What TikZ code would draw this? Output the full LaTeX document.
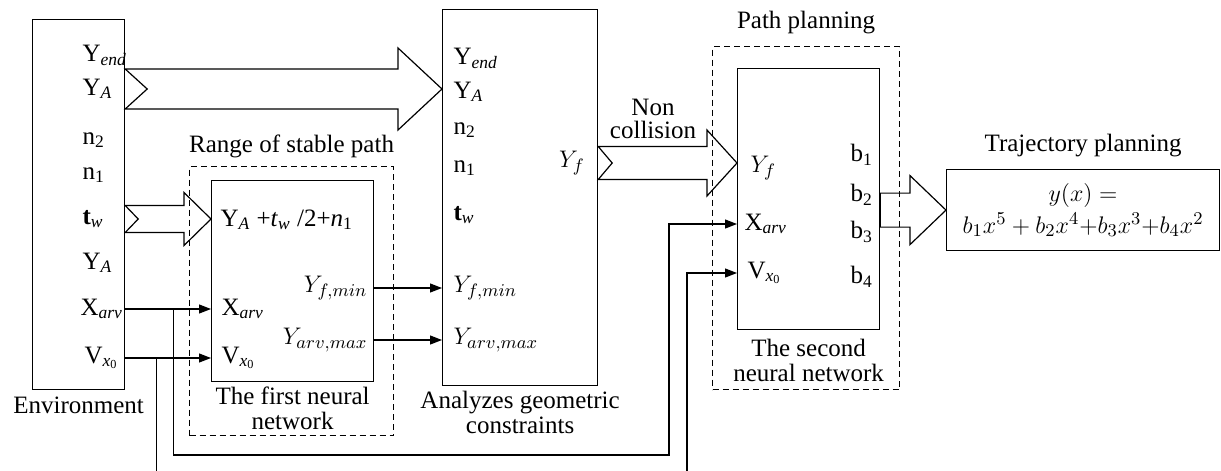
\documentclass[tikz,border=0pt]{standalone}
\usepackage{fontspec}
\setmainfont{Liberation Serif}
\usetikzlibrary{positioning,arrows.meta,calc}
\newcommand\lbl[2]{#1\textsubscript{\itshape #2}}
% wide arrow: start, tip, shaft half, head half, head length, notch
\newcommand\fatarrow[6]{%
  \draw ($(#1)+(0,-#3)$) -- ($(#2)+(-#5,-#3)$) -- ($(#2)+(-#5,-#4)$) -- (#2)
    -- ($(#2)+(-#5,#4)$) -- ($(#2)+(-#5,#3)$) -- ($(#1)+(0,#3)$) -- ($(#1)+(#6,0)$) -- cycle;}
\begin{document}
\begin{tikzpicture}[x=0.5pt,y=-0.5pt,>={Triangle[length=6pt,width=4.5pt]},
  font=\fontsize{12.5}{14}\selectfont, line width=0.6pt,
  box/.style 2 args={draw,minimum width=#1,minimum height=#2,anchor=north west,inner sep=0pt},
  dbox/.style 2 args={box={#1}{#2},dash pattern=on 3pt off 2pt},
  lab/.style={anchor=west,inner sep=0pt},
  capt/.style={align=center,inner sep=0pt,font=\fontsize{12.5}{12.5}\selectfont}]
  \useasboundingbox (0,0) rectangle (1221,471);
  % blocks
  \node[box={46pt}{185pt}](env) at (32,19) {};
  \node[box={77.5pt}{188pt}](geo) at (442,9) {};
  \node[dbox={102pt}{134.5pt}](rng) at (189,166) {};
  \node[box={81pt}{100.5pt}](nn1) at (211,180) {};
  \node[dbox={93.5pt}{171.5pt}](pp) at (712,46) {};
  \node[box={71pt}{130.5pt}](nn2) at (737,68) {};
  \node[box={136.5pt}{40.5pt},align=center,font=\fontsize{13}{15}\selectfont](traj) at (946,169)
    {$y(x)=$\\[1pt]$b_1x^5+b_2x^4{+}b_3x^3{+}b_4x^2$};
  % captions
  \node[capt,below=3pt of env](envcap){Environment};
  \node[capt,below=2pt of nn1](nn1cap){The first neural\\network};
  \node[capt,below=2pt of geo](geocap){Analyzes geometric\\constraints};
  \node[capt,above=4pt of rng](rngcap){Range of stable path};
  \node[capt,above=6pt of pp](ppcap){Path planning};
  \node[capt,below=4pt of nn2](nn2cap){The second\\neural network};
  \node[capt,above=6pt of traj](trajcap){Trajectory planning};
  \node[capt,font=\fontsize{12.5}{11.5}\selectfont](noncol) at (653,119){Non\\collision};
  % environment labels
  \node[lab](eYe) at (82,55) {\lbl{Y}{end}};
  \node[lab](eYA) at (82,89) {\lbl{Y}{A}};
  \node[lab](en2) at (82,140) {n\textsubscript{2}};
  \node[lab](en1) at (82,175) {n\textsubscript{1}};
  \node[lab](etw) at (82,219) {\textbf{t}\textsubscript{\itshape w}};
  \node[lab](eYA2) at (82,263) {\lbl{Y}{A}};
  \node[lab](eX) at (80,309) {\lbl{X}{arv}};
  \node[lab](eV) at (84,358) {V\textsubscript{\itshape x\textsubscript{\upshape 0}}};
  % geometric constraint labels
  \node[lab](gYe) at (453,58) {\lbl{Y}{end}};
  \node[lab](gYA) at (453,92) {\lbl{Y}{A}};
  \node[lab](gn2) at (453,130) {n\textsubscript{2}};
  \node[lab](gn1) at (453,168) {n\textsubscript{1}};
  \node[lab](gtw) at (453,215) {\textbf{t}\textsubscript{\itshape w}};
  \node[lab](gFmin) at (453,288) {$Y_{f,min}$};
  \node[lab](gAmax) at (453,340) {$Y_{arv,max}$};
  \node[inner sep=0pt](gYf) at (572,163) {$Y_f$};
  % first network labels
  \node[lab](n1Y) at (220,220) {\lbl{Y}{A} +\textit{t}\textsubscript{\itshape w} /2+\textit{n}\textsubscript{1}};
  \node[lab,anchor=east](n1Fmin) at (368,288) {$Y_{f,min}$};
  \node[lab](n1X) at (221,309) {\lbl{X}{arv}};
  \node[lab,anchor=east](n1Amax) at (368,340) {$Y_{arv,max}$};
  \node[lab](n1V) at (221,358) {V\textsubscript{\itshape x\textsubscript{\upshape 0}}};
  % second network labels
  \node[lab](tYf) at (750,168) {$Y_f$};
  \node[lab](tX) at (744,224) {\lbl{X}{arv}};
  \node[lab](tV) at (747,273) {V\textsubscript{\itshape x\textsubscript{\upshape 0}}};
  \node[lab](b1) at (850,155) {b\textsubscript{1}};
  \node[lab](b2) at (850,195) {b\textsubscript{2}};
  \node[lab](b3) at (850,232) {b\textsubscript{3}};
  \node[lab](b4) at (850,277) {b\textsubscript{4}};
  % wide arrows
  \fatarrow{env.east |- eYA}{geo.west |- eYA}{20}{41}{44}{22}
  \fatarrow{env.east |- etw}{nn1.west |- etw}{13.5}{26.5}{27}{13}
  \fatarrow{geo.east |- gYf}{nn2.west |- gYf}{16.5}{33}{30}{14}
  \fatarrow{nn2.east |- traj}{traj.west}{17}{34.5}{36}{0}
  % thin arrows
  \draw[->](env.east |- eX)--(nn1.west |- eX);
  \draw[->](env.east |- eV)--(nn1.west |- eV);
  \draw[->](nn1.east |- n1Fmin)--(geo.west |- n1Fmin);
  \draw[->](nn1.east |- n1Amax)--(geo.west |- n1Amax);
  \coordinate(xbr) at ($(env.east |- eX)+(48,0)$);
  \coordinate(xturn) at (669,455);
  \draw[->](xbr)|-(xturn)|-(nn2.west |- tX);
  \coordinate(vbr) at ($(env.east |- eV)+(31,0)$);
  \coordinate(bot) at (0,471);
  \draw(vbr)--(vbr |- bot);
  \coordinate(vturn) at (687,471);
  \draw[->](vturn)|-(nn2.west |- tV);
\end{tikzpicture}
\end{document}
